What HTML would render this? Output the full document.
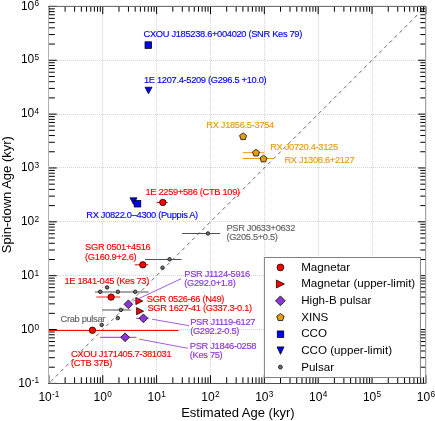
<!DOCTYPE html><html><head><meta charset="utf-8"><style>html,body{margin:0;padding:0;background:#fff;width:435px;height:421px;overflow:hidden}svg{display:block;will-change:transform}text{font-family:"Liberation Sans",sans-serif}</style></head><body>
<svg width="435" height="421" viewBox="0 0 435 421">
<path d="M102.5 7V383M156.5 7V383M210.5 7V383M264.5 7V383M318.5 7V383M372.5 7V383M49 60.5H425M49 114.5H425M49 167.5H425M49 221.5H425M49 275.5H425M49 329.5H425" stroke="#d4d4d4" stroke-width="1" stroke-dasharray="1 1" fill="none"/>
<path d="M48.90 383.40L425.90 6.40" stroke="#5a5a5a" stroke-width="0.95" stroke-dasharray="3.6 3.55" stroke-dashoffset="-2.5" fill="none"/>
<rect x="145.0" y="41.800000000000004" width="6.6" height="6.6" fill="#0000ff" stroke="#000" stroke-width="0.75"/>
<path d="M145.0 87.2H152.0L148.5 93.8Z" fill="#0000ff" stroke="#000" stroke-width="0.75"/>
<path d="M130.0 197.79999999999998H137.0L133.5 204.4Z" fill="#0000ff" stroke="#000" stroke-width="0.75"/>
<rect x="134.2" y="200.39999999999998" width="6.6" height="6.6" fill="#0000ff" stroke="#000" stroke-width="0.75"/>
<path d="M242.8 152.7H264.4" stroke="#e69c12" stroke-width="1"/>
<path d="M242.8 158.5H273.6" stroke="#e69c12" stroke-width="1"/>
<polygon points="243.10,132.90 246.62,135.46 245.27,139.59 240.93,139.59 239.58,135.46" fill="#e69c12" stroke="#000" stroke-width="0.75"/>
<polygon points="256.00,149.30 259.52,151.86 258.17,155.99 253.83,155.99 252.48,151.86" fill="#e69c12" stroke="#000" stroke-width="0.75"/>
<polygon points="263.50,155.20 267.02,157.76 265.67,161.89 261.33,161.89 259.98,157.76" fill="#e69c12" stroke="#000" stroke-width="0.75"/>
<path d="M156.7 202.4H167.7" stroke="#c00000" stroke-width="1"/>
<circle cx="162.8" cy="202.4" r="3.2" fill="#ff0000" stroke="#000" stroke-width="0.75"/>
<path d="M182.1 233.5H220.2" stroke="#505050" stroke-width="1"/>
<circle cx="207.9" cy="233.5" r="1.75" fill="#707070" stroke="#1a1a1a" stroke-width="0.9"/>
<path d="M145 259.5H181.6" stroke="#505050" stroke-width="1"/>
<circle cx="169.6" cy="259.3" r="1.75" fill="#707070" stroke="#1a1a1a" stroke-width="0.9"/>
<circle cx="162.5" cy="267.7" r="1.75" fill="#707070" stroke="#1a1a1a" stroke-width="0.9"/>
<path d="M95 292.0H148.5" stroke="#505050" stroke-width="1"/>
<circle cx="100.2" cy="291.8" r="1.75" fill="#707070" stroke="#1a1a1a" stroke-width="0.9"/>
<circle cx="117.9" cy="291.8" r="1.75" fill="#707070" stroke="#1a1a1a" stroke-width="0.9"/>
<circle cx="135.2" cy="291.8" r="1.75" fill="#707070" stroke="#1a1a1a" stroke-width="0.9"/>
<circle cx="107.1" cy="287.4" r="1.75" fill="#707070" stroke="#1a1a1a" stroke-width="0.9"/>
<path d="M102.1 310.0H130.8" stroke="#505050" stroke-width="1"/>
<circle cx="120.9" cy="309.9" r="1.75" fill="#707070" stroke="#1a1a1a" stroke-width="0.9"/>
<circle cx="101.7" cy="324.9" r="1.75" fill="#707070" stroke="#1a1a1a" stroke-width="0.9"/>
<circle cx="117.8" cy="318.1" r="1.75" fill="#707070" stroke="#1a1a1a" stroke-width="0.9"/>
<path d="M134.9 264.8H148.4" stroke="#e00000" stroke-width="1"/>
<circle cx="142.8" cy="264.8" r="3.2" fill="#ff0000" stroke="#000" stroke-width="0.75"/>
<path d="M96.3 297.0H120.2" stroke="#ff2020" stroke-width="1"/>
<circle cx="111.1" cy="297.1" r="3.2" fill="#ff0000" stroke="#000" stroke-width="0.75"/>
<path d="M48.9 330.5H178.6" stroke="#ff0000" stroke-width="1"/>
<circle cx="92.4" cy="330.3" r="3.2" fill="#ff0000" stroke="#000" stroke-width="0.75"/>
<path d="M100.2 337.3H136.4" stroke="#8a35d5" stroke-width="1"/>
<path d="M125.1 332.90000000000003L129.5 337.3L125.1 341.7L120.69999999999999 337.3Z" fill="#8a35d5" stroke="#000" stroke-width="0.75"/>
<path d="M136.1 318.3H148.6" stroke="#8a35d5" stroke-width="1"/>
<path d="M143.4 313.90000000000003L147.8 318.3L143.4 322.7L139.0 318.3Z" fill="#8a35d5" stroke="#000" stroke-width="0.75"/>
<path d="M128.4 299.90000000000003L132.8 304.3L128.4 308.7L124.0 304.3Z" fill="#8a35d5" stroke="#000" stroke-width="0.75"/>
<path d="M135.8 297.4L142.8 301L135.8 304.6Z" fill="#ff0000" stroke="#000" stroke-width="0.75"/>
<path d="M136.6 307.59999999999997L143.6 311.2L136.6 314.8Z" fill="#ff0000" stroke="#000" stroke-width="0.75"/>
<path d="M152 319.2L189 325.7" stroke="#8a35d5" stroke-width="0.8"/>
<path d="M139.1 339.1L187.8 348.3" stroke="#8a35d5" stroke-width="0.8"/>
<path d="M132.8 301.4L181 278.8" stroke="#8a35d5" stroke-width="0.8"/>
<text x="143.60" y="36.75" font-size="9.3" fill="#0000ff" stroke="#0000ff" stroke-width="0.15" letter-spacing="-0.32">CXOU J185238.6+004020 (SNR Kes 79)</text>
<text x="144.00" y="83.35" font-size="9.3" fill="#0000ff" stroke="#0000ff" stroke-width="0.15" letter-spacing="-0.32">1E 1207.4-5209 (G296.5 +10.0)</text>
<text x="206.30" y="127.75" font-size="9.3" fill="#e69c12" stroke="#e69c12" stroke-width="0.15" letter-spacing="-0.32">RX J1856.5-3754</text>
<text x="270.20" y="150.25" font-size="9.3" fill="#e69c12" stroke="#e69c12" stroke-width="0.15" letter-spacing="-0.32">RX J0720.4-3125</text>
<text x="284.40" y="162.55" font-size="9.3" fill="#e69c12" stroke="#e69c12" stroke-width="0.15" letter-spacing="-0.32">RX J1308.6+2127</text>
<text x="145.50" y="195.35" font-size="9.3" fill="#ff0000" stroke="#ff0000" stroke-width="0.15" letter-spacing="-0.32">1E 2259+586 (CTB 109)</text>
<text x="86.30" y="217.75" font-size="9.3" fill="#0000ff" stroke="#0000ff" stroke-width="0.15" letter-spacing="-0.32">RX J0822.0–4300 (Puppis A)</text>
<text x="226.40" y="231.05" font-size="9.3" fill="#646464" stroke="#646464" stroke-width="0.15" letter-spacing="-0.32">PSR J0633+0632</text>
<text x="226.40" y="240.25" font-size="9.3" fill="#646464" stroke="#646464" stroke-width="0.15" letter-spacing="-0.32">(G205.5+0.5)</text>
<text x="85.10" y="250.25" font-size="9.3" fill="#ff0000" stroke="#ff0000" stroke-width="0.15" letter-spacing="-0.32">SGR 0501+4516</text>
<text x="85.10" y="259.55" font-size="9.3" fill="#ff0000" stroke="#ff0000" stroke-width="0.15" letter-spacing="-0.32">(G160.9+2.6)</text>
<text x="64.40" y="284.05" font-size="9.3" fill="#ff0000" stroke="#ff0000" stroke-width="0.15" letter-spacing="-0.32">1E 1841-045 (Kes 73)</text>
<text x="184.30" y="276.95" font-size="9.3" fill="#8a35d5" stroke="#8a35d5" stroke-width="0.15" letter-spacing="-0.32">PSR J1124-5916</text>
<text x="184.30" y="285.95" font-size="9.3" fill="#8a35d5" stroke="#8a35d5" stroke-width="0.15" letter-spacing="-0.32">(G292.0+1.8)</text>
<text x="146.80" y="302.15" font-size="9.3" fill="#ff0000" stroke="#ff0000" stroke-width="0.15" letter-spacing="-0.32">SGR 0526-66 (N49)</text>
<text x="147.40" y="311.45" font-size="9.3" fill="#ff0000" stroke="#ff0000" stroke-width="0.15" letter-spacing="-0.32">SGR 1627-41 (G337.3-0.1)</text>
<text x="190.20" y="324.85" font-size="9.3" fill="#8a35d5" stroke="#8a35d5" stroke-width="0.15" letter-spacing="-0.32">PSR J1119-6127</text>
<text x="190.20" y="333.95" font-size="9.3" fill="#8a35d5" stroke="#8a35d5" stroke-width="0.15" letter-spacing="-0.32">(G292.2-0.5)</text>
<text x="189.80" y="349.15" font-size="9.3" fill="#8a35d5" stroke="#8a35d5" stroke-width="0.15" letter-spacing="-0.32">PSR J1846-0258</text>
<text x="189.80" y="358.25" font-size="9.3" fill="#8a35d5" stroke="#8a35d5" stroke-width="0.15" letter-spacing="-0.32">(Kes 75)</text>
<text x="60.50" y="322.15" font-size="9.3" fill="#646464" stroke="#646464" stroke-width="0.15" letter-spacing="-0.32">Crab pulsar</text>
<text x="71.00" y="356.95" font-size="9.3" fill="#ff0000" stroke="#ff0000" stroke-width="0.15" letter-spacing="-0.32">CXOU J171405.7-381031</text>
<text x="71.00" y="366.15" font-size="9.3" fill="#ff0000" stroke="#ff0000" stroke-width="0.15" letter-spacing="-0.32">(CTB 37B)</text>
<path d="M48.90 383.5v-8.3M48.90 6.4v7.8M48.5 383.40h8.3M425.7 383.40h-7.5M65.11 383.5v-6.2M65.11 6.4v5.3M48.5 367.19h6.3M425.7 367.19h-5.4M74.60 383.5v-6.2M74.60 6.4v5.3M48.5 357.70h6.3M425.7 357.70h-5.4M81.33 383.5v-6.2M81.33 6.4v5.3M48.5 350.97h6.3M425.7 350.97h-5.4M86.54 383.5v-6.2M86.54 6.4v5.3M48.5 345.76h6.3M425.7 345.76h-5.4M90.81 383.5v-6.2M90.81 6.4v5.3M48.5 341.49h6.3M425.7 341.49h-5.4M94.41 383.5v-6.2M94.41 6.4v5.3M48.5 337.89h6.3M425.7 337.89h-5.4M97.54 383.5v-6.2M97.54 6.4v5.3M48.5 334.76h6.3M425.7 334.76h-5.4M100.29 383.5v-6.2M100.29 6.4v5.3M48.5 332.01h6.3M425.7 332.01h-5.4M102.76 383.5v-8.3M102.76 6.4v7.8M48.5 329.54h8.3M425.7 329.54h-7.5M118.97 383.5v-6.2M118.97 6.4v5.3M48.5 313.33h6.3M425.7 313.33h-5.4M128.45 383.5v-6.2M128.45 6.4v5.3M48.5 303.85h6.3M425.7 303.85h-5.4M135.18 383.5v-6.2M135.18 6.4v5.3M48.5 297.12h6.3M425.7 297.12h-5.4M140.40 383.5v-6.2M140.40 6.4v5.3M48.5 291.90h6.3M425.7 291.90h-5.4M144.67 383.5v-6.2M144.67 6.4v5.3M48.5 287.63h6.3M425.7 287.63h-5.4M148.27 383.5v-6.2M148.27 6.4v5.3M48.5 284.03h6.3M425.7 284.03h-5.4M151.39 383.5v-6.2M151.39 6.4v5.3M48.5 280.91h6.3M425.7 280.91h-5.4M154.15 383.5v-6.2M154.15 6.4v5.3M48.5 278.15h6.3M425.7 278.15h-5.4M156.61 383.5v-8.3M156.61 6.4v7.8M48.5 275.69h8.3M425.7 275.69h-7.5M172.83 383.5v-6.2M172.83 6.4v5.3M48.5 259.47h6.3M425.7 259.47h-5.4M182.31 383.5v-6.2M182.31 6.4v5.3M48.5 249.99h6.3M425.7 249.99h-5.4M189.04 383.5v-6.2M189.04 6.4v5.3M48.5 243.26h6.3M425.7 243.26h-5.4M194.26 383.5v-6.2M194.26 6.4v5.3M48.5 238.04h6.3M425.7 238.04h-5.4M198.52 383.5v-6.2M198.52 6.4v5.3M48.5 233.78h6.3M425.7 233.78h-5.4M202.13 383.5v-6.2M202.13 6.4v5.3M48.5 230.17h6.3M425.7 230.17h-5.4M205.25 383.5v-6.2M205.25 6.4v5.3M48.5 227.05h6.3M425.7 227.05h-5.4M208.01 383.5v-6.2M208.01 6.4v5.3M48.5 224.29h6.3M425.7 224.29h-5.4M210.47 383.5v-8.3M210.47 6.4v7.8M48.5 221.83h8.3M425.7 221.83h-7.5M226.68 383.5v-6.2M226.68 6.4v5.3M48.5 205.62h6.3M425.7 205.62h-5.4M236.17 383.5v-6.2M236.17 6.4v5.3M48.5 196.13h6.3M425.7 196.13h-5.4M242.90 383.5v-6.2M242.90 6.4v5.3M48.5 189.40h6.3M425.7 189.40h-5.4M248.12 383.5v-6.2M248.12 6.4v5.3M48.5 184.18h6.3M425.7 184.18h-5.4M252.38 383.5v-6.2M252.38 6.4v5.3M48.5 179.92h6.3M425.7 179.92h-5.4M255.99 383.5v-6.2M255.99 6.4v5.3M48.5 176.31h6.3M425.7 176.31h-5.4M259.11 383.5v-6.2M259.11 6.4v5.3M48.5 173.19h6.3M425.7 173.19h-5.4M261.86 383.5v-6.2M261.86 6.4v5.3M48.5 170.44h6.3M425.7 170.44h-5.4M264.33 383.5v-8.3M264.33 6.4v7.8M48.5 167.97h8.3M425.7 167.97h-7.5M280.54 383.5v-6.2M280.54 6.4v5.3M48.5 151.76h6.3M425.7 151.76h-5.4M290.02 383.5v-6.2M290.02 6.4v5.3M48.5 142.28h6.3M425.7 142.28h-5.4M296.75 383.5v-6.2M296.75 6.4v5.3M48.5 135.55h6.3M425.7 135.55h-5.4M301.97 383.5v-6.2M301.97 6.4v5.3M48.5 130.33h6.3M425.7 130.33h-5.4M306.24 383.5v-6.2M306.24 6.4v5.3M48.5 126.06h6.3M425.7 126.06h-5.4M309.84 383.5v-6.2M309.84 6.4v5.3M48.5 122.46h6.3M425.7 122.46h-5.4M312.97 383.5v-6.2M312.97 6.4v5.3M48.5 119.33h6.3M425.7 119.33h-5.4M315.72 383.5v-6.2M315.72 6.4v5.3M48.5 116.58h6.3M425.7 116.58h-5.4M318.18 383.5v-8.3M318.18 6.4v7.8M48.5 114.12h8.3M425.7 114.12h-7.5M334.40 383.5v-6.2M334.40 6.4v5.3M48.5 97.90h6.3M425.7 97.90h-5.4M343.88 383.5v-6.2M343.88 6.4v5.3M48.5 88.42h6.3M425.7 88.42h-5.4M350.61 383.5v-6.2M350.61 6.4v5.3M48.5 81.69h6.3M425.7 81.69h-5.4M355.83 383.5v-6.2M355.83 6.4v5.3M48.5 76.47h6.3M425.7 76.47h-5.4M360.09 383.5v-6.2M360.09 6.4v5.3M48.5 72.21h6.3M425.7 72.21h-5.4M363.70 383.5v-6.2M363.70 6.4v5.3M48.5 68.60h6.3M425.7 68.60h-5.4M366.82 383.5v-6.2M366.82 6.4v5.3M48.5 65.48h6.3M425.7 65.48h-5.4M369.58 383.5v-6.2M369.58 6.4v5.3M48.5 62.72h6.3M425.7 62.72h-5.4M372.04 383.5v-8.3M372.04 6.4v7.8M48.5 60.26h8.3M425.7 60.26h-7.5M388.25 383.5v-6.2M388.25 6.4v5.3M48.5 44.05h6.3M425.7 44.05h-5.4M397.74 383.5v-6.2M397.74 6.4v5.3M48.5 34.56h6.3M425.7 34.56h-5.4M404.47 383.5v-6.2M404.47 6.4v5.3M48.5 27.83h6.3M425.7 27.83h-5.4M409.69 383.5v-6.2M409.69 6.4v5.3M48.5 22.61h6.3M425.7 22.61h-5.4M413.95 383.5v-6.2M413.95 6.4v5.3M48.5 18.35h6.3M425.7 18.35h-5.4M417.56 383.5v-6.2M417.56 6.4v5.3M48.5 14.74h6.3M425.7 14.74h-5.4M420.68 383.5v-6.2M420.68 6.4v5.3M48.5 11.62h6.3M425.7 11.62h-5.4M423.43 383.5v-6.2M423.43 6.4v5.3M48.5 8.87h6.3M425.7 8.87h-5.4M425.90 383.5v-8.3M425.90 6.4v7.8M48.5 6.40h8.3M425.7 6.40h-7.5" stroke="#000" stroke-width="1" fill="none"/>
<path d="M48.5 6.4V383.5" stroke="#b0b0b0" stroke-width="1"/>
<path d="M48 6.4H426" stroke="#606060" stroke-width="1"/>
<path d="M48 383.5H426" stroke="#505050" stroke-width="1"/>
<path d="M425.7 6V384" stroke="#909090" stroke-width="1"/>
<rect x="264.4" y="257.5" width="156" height="120" fill="#fff" stroke="#808080" stroke-width="1"/>
<text x="301.20" y="270.60" font-size="11.6" fill="#000">Magnetar</text>
<text x="301.20" y="287.25" font-size="11.6" fill="#000">Magnetar (upper-limit)</text>
<text x="301.20" y="303.90" font-size="11.6" fill="#000">High-B pulsar</text>
<text x="301.20" y="320.55" font-size="11.6" fill="#000">XINS</text>
<text x="301.20" y="337.20" font-size="11.6" fill="#000">CCO</text>
<text x="301.20" y="353.85" font-size="11.6" fill="#000">CCO (upper-limit)</text>
<text x="301.20" y="370.50" font-size="11.6" fill="#000">Pulsar</text>
<circle cx="280.4" cy="267.4" r="3.4" fill="#ff0000" stroke="#000" stroke-width="0.75"/>
<path d="M276.4 280.0L284.4 284L276.4 288.0Z" fill="#ff0000" stroke="#000" stroke-width="0.75"/>
<path d="M280.4 295.90000000000003L285.29999999999995 300.8L280.4 305.7L275.5 300.8Z" fill="#8a35d5" stroke="#000" stroke-width="0.75"/>
<polygon points="280.40,313.50 284.11,316.19 282.69,320.56 278.11,320.56 276.69,316.19" fill="#e69c12" stroke="#000" stroke-width="0.75"/>
<rect x="277.25" y="330.95" width="6.5" height="6.5" fill="#0000ff" stroke="#000" stroke-width="0.75"/>
<path d="M277.0 346.90000000000003H284.0L280.5 354.3Z" fill="#0000ff" stroke="#000" stroke-width="0.75"/>
<circle cx="280.4" cy="367.1" r="1.9" fill="#707070" stroke="#1a1a1a" stroke-width="0.9"/>
<text x="48.90" y="400.5" font-size="12.0" text-anchor="middle">10<tspan font-size="8.3" dy="-3.1" dx="0.3">-1</tspan></text>
<text x="39.2" y="386.50" font-size="12.0" text-anchor="end">10<tspan font-size="8.3" dy="-3.1" dx="0.3">-1</tspan></text>
<text x="102.76" y="400.5" font-size="12.0" text-anchor="middle">10<tspan font-size="8.3" dy="-3.1" dx="0.3">0</tspan></text>
<text x="39.2" y="332.64" font-size="12.0" text-anchor="end">10<tspan font-size="8.3" dy="-3.1" dx="0.3">0</tspan></text>
<text x="156.61" y="400.5" font-size="12.0" text-anchor="middle">10<tspan font-size="8.3" dy="-3.1" dx="0.3">1</tspan></text>
<text x="39.2" y="278.79" font-size="12.0" text-anchor="end">10<tspan font-size="8.3" dy="-3.1" dx="0.3">1</tspan></text>
<text x="210.47" y="400.5" font-size="12.0" text-anchor="middle">10<tspan font-size="8.3" dy="-3.1" dx="0.3">2</tspan></text>
<text x="39.2" y="224.93" font-size="12.0" text-anchor="end">10<tspan font-size="8.3" dy="-3.1" dx="0.3">2</tspan></text>
<text x="264.33" y="400.5" font-size="12.0" text-anchor="middle">10<tspan font-size="8.3" dy="-3.1" dx="0.3">3</tspan></text>
<text x="39.2" y="171.07" font-size="12.0" text-anchor="end">10<tspan font-size="8.3" dy="-3.1" dx="0.3">3</tspan></text>
<text x="318.18" y="400.5" font-size="12.0" text-anchor="middle">10<tspan font-size="8.3" dy="-3.1" dx="0.3">4</tspan></text>
<text x="39.2" y="117.22" font-size="12.0" text-anchor="end">10<tspan font-size="8.3" dy="-3.1" dx="0.3">4</tspan></text>
<text x="372.04" y="400.5" font-size="12.0" text-anchor="middle">10<tspan font-size="8.3" dy="-3.1" dx="0.3">5</tspan></text>
<text x="39.2" y="63.36" font-size="12.0" text-anchor="end">10<tspan font-size="8.3" dy="-3.1" dx="0.3">5</tspan></text>
<text x="425.90" y="400.5" font-size="12.0" text-anchor="middle">10<tspan font-size="8.3" dy="-3.1" dx="0.3">6</tspan></text>
<text x="39.2" y="9.50" font-size="12.0" text-anchor="end">10<tspan font-size="8.3" dy="-3.1" dx="0.3">6</tspan></text>
<text x="237.90" y="417.20" font-size="13.0" fill="#000" text-anchor="middle">Estimated Age (kyr)</text>
<text transform="translate(10.9,194.6) rotate(-90)" font-size="13" text-anchor="middle">Spin-down Age (kyr)</text>
</svg></body></html>
